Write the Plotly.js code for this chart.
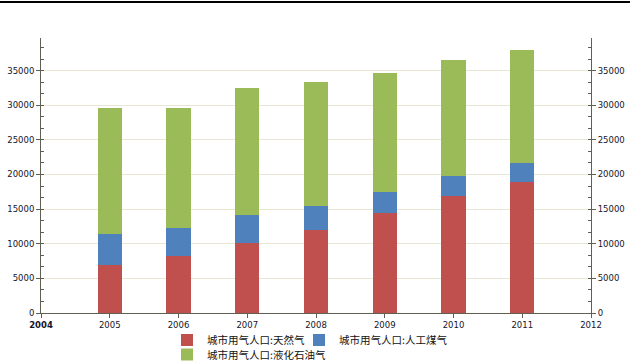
<!DOCTYPE html>
<html>
<head>
<meta charset="utf-8">
<script src="https://cdn.plot.ly/plotly-3.0.1.min.js"></script>
<style>
  html, body { margin: 0; padding: 0; background: #fff; }
  #topline { position: absolute; left: 0; top: 1px; width: 630px; height: 2px; background: #000; z-index: 5; }
  #chart { width: 630px; height: 363px; }
</style>
</head>
<body>
<div id="topline"></div>
<div id="chart"></div>
<script>
// Data (城市用气人口, 万人)
var years = [2005, 2006, 2007, 2008, 2009, 2010, 2011];
var naturalGas = [6910, 8250, 10130, 12040, 14450, 16940, 18910];
var manufacturedGas = [4510, 4040, 4030, 3460, 3020, 2840, 2740];
var lpg = [18150, 17280, 18290, 17800, 17130, 16720, 16250];
var seriesNames = ['城市用气人口:天然气', '城市用气人口:人工煤气', '城市用气人口:液化石油气'];
var seriesColors = ['#c0504d', '#4f81bd', '#9bbb59'];
var yTickVals = [0, 5000, 10000, 15000, 20000, 25000, 30000, 35000];
var xTickVals = [2004, 2005, 2006, 2007, 2008, 2009, 2010, 2011, 2012];
var xTickText = ['<b>2004</b>', '2005', '2006', '2007', '2008', '2009', '2010', '2011', '2012'];

var tickFont = { family: 'DejaVu Sans, Verdana, sans-serif', size: 8.5, color: '#14142a' };
var axisColor = '#5f5f52';
var legendFont = { family: 'Noto Sans CJK SC, sans-serif', size: 10.5, color: '#111' };

function barTrace(vals, i, legendId) {
  return {
    type: 'bar', x: years, y: vals, name: seriesNames[i],
    marker: { color: seriesColors[i], line: { width: 0 } },
    width: 0.35, legend: legendId, hoverinfo: 'x+y+name'
  };
}

var traces = [
  barTrace(naturalGas, 0, 'legend'),
  barTrace(manufacturedGas, 1, 'legend2'),
  barTrace(lpg, 2, 'legend3')
];

var yCommon = {
  range: [0, 39700], tickvals: yTickVals, tickformat: 'd',
  ticks: 'outside', ticklen: 4, tickcolor: axisColor, tickwidth: 1,
  showline: true, linecolor: axisColor, linewidth: 1, zeroline: false,
  tickfont: tickFont, fixedrange: true,
  minor: { dtick: 5000 / 3, tick0: 0, ticks: 'inside', ticklen: 3, tickcolor: axisColor, showgrid: false }
};

var legendCommon = {
  orientation: 'h', xref: 'container', yref: 'container',
  xanchor: 'left', yanchor: 'middle', traceorder: 'normal',
  font: legendFont, bgcolor: 'rgba(0,0,0,0)', itemclick: false, itemdoubleclick: false
};

var layout = {
  width: 630, height: 363,
  margin: { l: 41, r: 39, t: 38, b: 50 },
  paper_bgcolor: '#fff', plot_bgcolor: '#fff',
  barmode: 'stack',
  showlegend: true,
  xaxis: {
    range: [2004, 2012], tickvals: xTickVals, ticktext: xTickText,
    ticks: 'outside', ticklen: 4, tickcolor: axisColor,
    showline: true, linecolor: axisColor, linewidth: 1,
    showgrid: false, zeroline: false, tickfont: tickFont, fixedrange: true
  },
  yaxis: Object.assign({}, yCommon, { side: 'left', showgrid: true, gridcolor: '#e8e6d3', gridwidth: 1 }),
  yaxis2: Object.assign({}, yCommon, { side: 'right', overlaying: 'y', anchor: 'x', showgrid: false, matches: 'y' }),
  legend: Object.assign({}, legendCommon, { x: 167 / 630, y: 23 / 363 }),
  legend2: Object.assign({}, legendCommon, { x: 299 / 630, y: 23 / 363 }),
  legend3: Object.assign({}, legendCommon, { x: 167 / 630, y: 8.5 / 363 })
};

// invisible companion trace so the right-hand axis is drawn
traces.push({
  type: 'scatter', x: years, y: lpg, yaxis: 'y2', mode: 'markers',
  marker: { opacity: 0 }, showlegend: false, hoverinfo: 'skip'
});

Plotly.newPlot('chart', traces, layout, { displayModeBar: false, staticPlot: true });
</script>
</body>
</html>
